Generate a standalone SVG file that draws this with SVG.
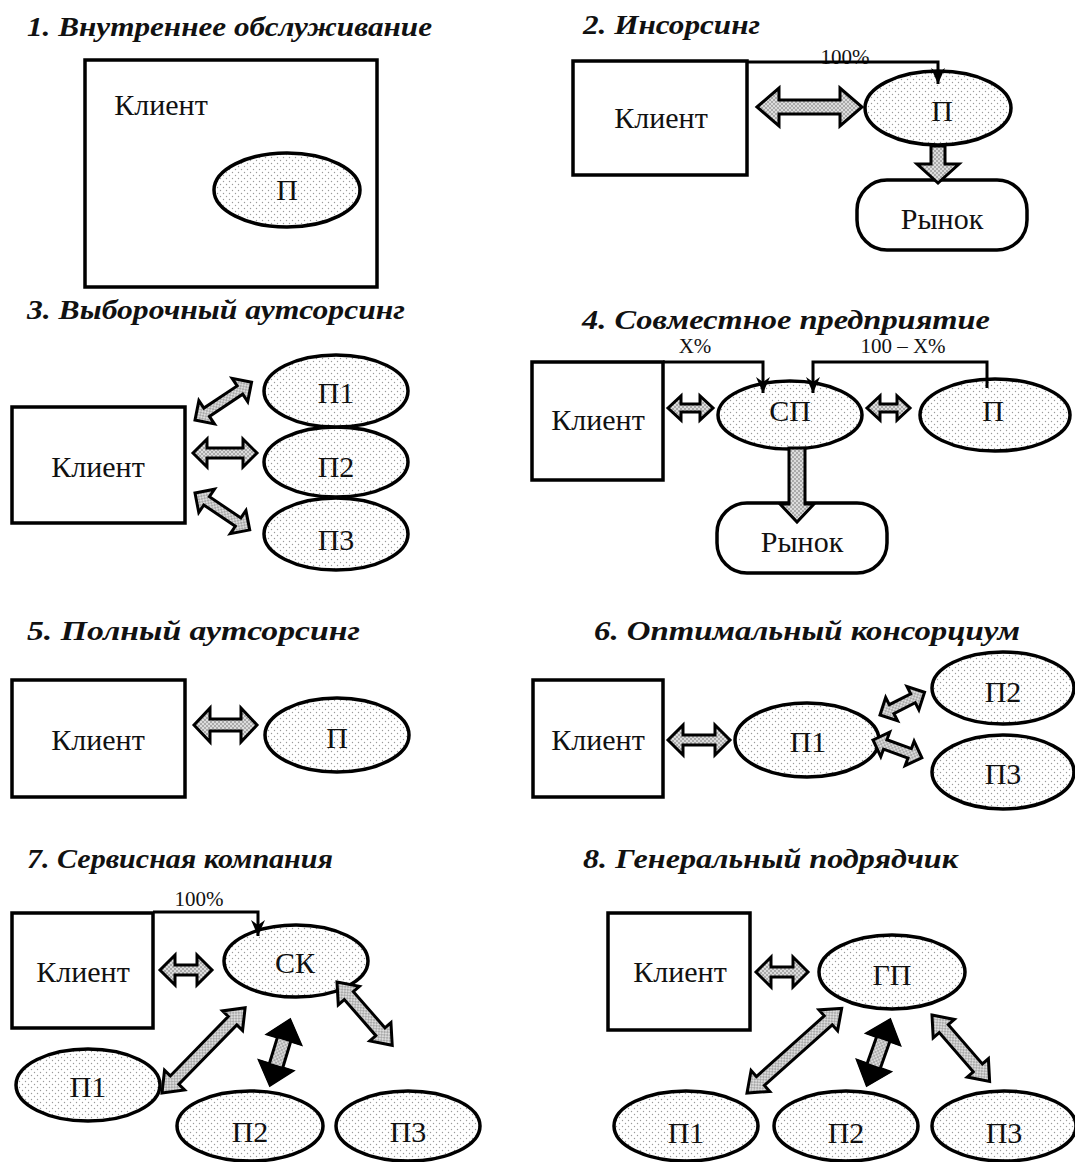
<svg xmlns="http://www.w3.org/2000/svg" width="1075" height="1162" viewBox="0 0 1075 1162">
<defs>
<pattern id="dots" width="6" height="6" patternUnits="userSpaceOnUse">
<rect width="6" height="6" fill="#fff"/>
<circle cx="1.5" cy="1.5" r="0.7" fill="#9a9a9a"/>
<circle cx="4.5" cy="4.5" r="0.7" fill="#9a9a9a"/>
</pattern>
<pattern id="adots" width="4" height="4" patternUnits="userSpaceOnUse">
<rect width="4" height="4" fill="#dcdcdc"/>
<circle cx="1" cy="1" r="0.8" fill="#6a6a6a"/>
<circle cx="3" cy="3" r="0.8" fill="#6a6a6a"/>
</pattern>
<marker id="ahd" viewBox="0 0 16 14" refX="16" refY="7" markerWidth="16" markerHeight="14" markerUnits="userSpaceOnUse" orient="auto">
<path d="M0,0 L16,7 L0,14 L5,7 Z" fill="#000"/>
</marker>
</defs>
<style>
.title{font-family:"Liberation Serif","Times New Roman",serif;font-weight:bold;font-style:italic;font-size:27px;fill:#111}
.lbl{font-family:"Liberation Serif","Times New Roman",serif;font-size:30px;fill:#111;text-anchor:middle}
.pct{font-family:"Liberation Serif","Times New Roman",serif;font-size:21px;fill:#111;text-anchor:middle}
.box{fill:#fff;stroke:#000;stroke-width:3.5}
.ell{fill:url(#dots);stroke:#000;stroke-width:3.5}
.mkt{fill:#fff;stroke:#000;stroke-width:3.5}
.arr{fill:url(#adots);stroke:#000;stroke-width:3;stroke-linejoin:miter}
.blk{fill:#000;stroke:#000;stroke-width:2}
.con{fill:none;stroke:#000;stroke-width:3}
</style>
<rect width="1075" height="1162" fill="#fff"/>

<!-- Titles -->
<g id="titles">
<text class="title" x="27" y="36" textLength="405" lengthAdjust="spacingAndGlyphs">1. Внутреннее обслуживание</text>
<text class="title" x="583" y="34" textLength="177" lengthAdjust="spacingAndGlyphs">2. Инсорсинг</text>
<text class="title" x="27" y="319" textLength="378" lengthAdjust="spacingAndGlyphs">3. Выборочный аутсорсинг</text>
<text class="title" x="582" y="329" textLength="408" lengthAdjust="spacingAndGlyphs">4. Совместное предприятие</text>
<text class="title" x="27" y="640" textLength="333" lengthAdjust="spacingAndGlyphs">5. Полный аутсорсинг</text>
<text class="title" x="594" y="640" textLength="426" lengthAdjust="spacingAndGlyphs">6. Оптимальный консорциум</text>
<text class="title" x="27" y="868" textLength="306" lengthAdjust="spacingAndGlyphs">7. Сервисная компания</text>
<text class="title" x="583" y="868" textLength="375" lengthAdjust="spacingAndGlyphs">8. Генеральный подрядчик</text>
</g>

<!-- Panel 1 -->
<g id="p1-client"><rect class="box" x="85" y="60" width="292" height="227"/><text class="lbl" x="161" y="115">Клиент</text></g>
<g id="p1-p"><ellipse class="ell" cx="287" cy="190" rx="73" ry="37"/><text class="lbl" x="287" y="200">П</text></g>

<!-- Panel 2 -->
<g id="p2-client"><rect class="box" x="573" y="61" width="174" height="114"/><text class="lbl" x="661" y="128">Клиент</text></g>
<g id="p2-p"><ellipse class="ell" cx="938" cy="108" rx="73" ry="37"/><text class="lbl" x="942" y="121">П</text></g>
<g id="p2-market"><rect class="mkt" x="857" y="180" width="170" height="70" rx="30" ry="30"/><text class="lbl" x="942" y="229">Рынок</text></g>

<!-- Panel 3 -->
<g id="p3-client"><rect class="box" x="12" y="407" width="173" height="116"/><text class="lbl" x="98" y="477">Клиент</text></g>
<g id="p3-p3"><ellipse class="ell" cx="336" cy="534" rx="72" ry="36"/><text class="lbl" x="336" y="550">П3</text></g>
<g id="p3-p2"><ellipse class="ell" cx="336" cy="462" rx="72" ry="35"/><text class="lbl" x="336" y="477">П2</text></g>
<g id="p3-p1"><ellipse class="ell" cx="336" cy="391" rx="72" ry="36"/><text class="lbl" x="336" y="403">П1</text></g>

<!-- Panel 4 -->
<g id="p4-client"><rect class="box" x="532" y="362" width="131" height="118"/><text class="lbl" x="598" y="430">Клиент</text></g>
<g id="p4-sp"><ellipse class="ell" cx="790" cy="415" rx="72" ry="34"/><text class="lbl" x="790" y="421">СП</text></g>
<g id="p4-p"><ellipse class="ell" cx="995" cy="415" rx="75" ry="36"/><text class="lbl" x="993" y="421">П</text></g>
<g id="p4-market"><rect class="mkt" x="717" y="503" width="170" height="70" rx="30" ry="30"/><text class="lbl" x="802" y="552">Рынок</text></g>

<!-- Panel 5 -->
<g id="p5-client"><rect class="box" x="12" y="680" width="173" height="117"/><text class="lbl" x="98" y="750">Клиент</text></g>
<g id="p5-p"><ellipse class="ell" cx="337" cy="735" rx="72" ry="37"/><text class="lbl" x="337" y="748">П</text></g>

<!-- Panel 6 -->
<g id="p6-client"><rect class="box" x="533" y="680" width="130" height="117"/><text class="lbl" x="598" y="750">Клиент</text></g>
<g id="p6-p1"><ellipse class="ell" cx="807" cy="740" rx="72" ry="37"/><text class="lbl" x="808" y="752">П1</text></g>
<g id="p6-p2"><ellipse class="ell" cx="1003" cy="688" rx="71" ry="36"/><text class="lbl" x="1003" y="702">П2</text></g>
<g id="p6-p3"><ellipse class="ell" cx="1003" cy="772" rx="71" ry="37"/><text class="lbl" x="1003" y="784">П3</text></g>

<!-- Panel 7 -->
<g id="p7-client"><rect class="box" x="12" y="913" width="141" height="115"/><text class="lbl" x="83" y="982">Клиент</text></g>
<g id="p7-sk"><ellipse class="ell" cx="296" cy="961" rx="72" ry="36"/><text class="lbl" x="295" y="973">СК</text></g>
<g id="p7-p1"><ellipse class="ell" cx="88" cy="1085" rx="72" ry="36"/><text class="lbl" x="88" y="1097">П1</text></g>
<g id="p7-p2"><ellipse class="ell" cx="250" cy="1126" rx="73" ry="35"/><text class="lbl" x="250" y="1142">П2</text></g>
<g id="p7-p3"><ellipse class="ell" cx="408" cy="1126" rx="72" ry="35"/><text class="lbl" x="408" y="1142">П3</text></g>

<!-- Panel 8 -->
<g id="p8-client"><rect class="box" x="608" y="913" width="142" height="117"/><text class="lbl" x="680" y="982">Клиент</text></g>
<g id="p8-gp"><ellipse class="ell" cx="892" cy="972" rx="73" ry="37"/><text class="lbl" x="892" y="985">ГП</text></g>
<g id="p8-p1"><ellipse class="ell" cx="686" cy="1126" rx="72" ry="35"/><text class="lbl" x="686" y="1143">П1</text></g>
<g id="p8-p2"><ellipse class="ell" cx="846" cy="1126" rx="72" ry="35"/><text class="lbl" x="846" y="1143">П2</text></g>
<g id="p8-p3"><ellipse class="ell" cx="1004" cy="1126" rx="72" ry="35"/><text class="lbl" x="1004" y="1143">П3</text></g>

<!-- Connectors -->
<g id="connectors">
<!-- panel 2 -->
<text class="pct" x="845" y="64">100%</text>
<path class="con" d="M747,62 H938 V84" marker-end="url(#ahd)"/>
<path class="arr" transform="translate(757,107)" d="M0,0 L22,-19 L22,-7 L83,-7 L83,-19 L105,0 L83,19 L83,7 L22,7 L22,19 Z"/>
<path class="arr" d="M931,146 H945 V164 H959 L938,183 L917,164 H931 Z"/>
<!-- panel 3 -->
<path class="arr" transform="translate(195,420) rotate(-33.7)" d="M0,0 L14,-14 L14,-5 L54,-5 L54,-14 L68,0 L54,14 L54,5 L14,5 L14,14 Z"/>
<path class="arr" transform="translate(193,453)" d="M0,0 L14,-14 L14,-5 L50,-5 L50,-14 L64,0 L50,14 L50,5 L14,5 L14,14 Z"/>
<path class="arr" transform="translate(195,493) rotate(34)" d="M0,0 L14,-14 L14,-5 L52,-5 L52,-14 L66,0 L52,14 L52,5 L14,5 L14,14 Z"/>
<!-- panel 4 -->
<text class="pct" x="695" y="353">X%</text>
<text class="pct" x="903" y="353">100 – X%</text>
<path class="con" d="M663,362 H763 V393" marker-end="url(#ahd)"/>
<path class="con" d="M987,388 V362 H813 V393" marker-end="url(#ahd)"/>
<path class="arr" transform="translate(668,408)" d="M0,0 L13,-12 L13,-4 L32,-4 L32,-12 L45,0 L32,12 L32,4 L13,4 L13,12 Z"/>
<path class="arr" transform="translate(867,408)" d="M0,0 L13,-12 L13,-4 L30,-4 L30,-12 L43,0 L30,12 L30,4 L13,4 L13,12 Z"/>
<path class="arr" d="M789,448 H805 V504 H814 L797,522 L780,504 H789 Z"/>
<!-- panel 5 -->
<path class="arr" transform="translate(194,725)" d="M0,0 L16,-17 L16,-6 L47,-6 L47,-17 L63,0 L47,17 L47,6 L16,6 L16,17 Z"/>
<!-- panel 6 -->
<path class="arr" transform="translate(668,740)" d="M0,0 L15,-15 L15,-5 L47,-5 L47,-15 L62,0 L47,15 L47,5 L15,5 L15,15 Z"/>
<path class="arr" transform="translate(880,715) rotate(-27)" d="M0,0 L13,-13 L13,-5 L37,-5 L37,-13 L50,0 L37,13 L37,5 L13,5 L13,13 Z"/>
<path class="arr" transform="translate(873,740) rotate(20)" d="M0,0 L13,-13 L13,-5 L39,-5 L39,-13 L52,0 L39,13 L39,5 L13,5 L13,13 Z"/>
<!-- panel 7 -->
<text class="pct" x="199" y="906">100%</text>
<path class="con" d="M153,912 H258 V936" marker-end="url(#ahd)"/>
<path class="arr" transform="translate(160,970)" d="M0,0 L15,-15 L15,-5 L37,-5 L37,-15 L52,0 L37,15 L37,5 L15,5 L15,15 Z"/>
<path class="arr" transform="translate(162,1093) rotate(-45.7)" d="M0,0 L18,-14 L18,-6 L101,-6 L101,-14 L119,0 L101,14 L101,6 L18,6 L18,14 Z"/>
<path class="arr" transform="translate(337,982) rotate(48.9)" d="M0,0 L18,-14 L18,-6 L66,-6 L66,-14 L84,0 L66,14 L66,6 L18,6 L18,14 Z"/>
<g transform="translate(290,1020) rotate(107)">
<path class="arr" d="M0,0 L20,-17 L20,-7 L48,-7 L48,-17 L68,0 L48,17 L48,7 L20,7 L20,17 Z"/>
<path class="blk" d="M0,0 L20,-17 L20,17 Z M68,0 L48,-17 L48,17 Z"/>
</g>
<!-- panel 8 -->
<path class="arr" transform="translate(756,972)" d="M0,0 L15,-15 L15,-5 L37,-5 L37,-15 L52,0 L37,15 L37,5 L15,5 L15,15 Z"/>
<path class="arr" transform="translate(747,1093) rotate(-41.8)" d="M0,0 L18,-14 L18,-6 L109,-6 L109,-14 L127,0 L109,14 L109,6 L18,6 L18,14 Z"/>
<path class="arr" transform="translate(932,1015) rotate(49.1)" d="M0,0 L18,-14 L18,-6 L70,-6 L70,-14 L88,0 L70,14 L70,6 L18,6 L18,14 Z"/>
<g transform="translate(890,1020) rotate(109.5)">
<path class="arr" d="M0,0 L20,-17 L20,-7 L49,-7 L49,-17 L69,0 L49,17 L49,7 L20,7 L20,17 Z"/>
<path class="blk" d="M0,0 L20,-17 L20,17 Z M69,0 L49,-17 L49,17 Z"/>
</g>
</g>
</svg>
